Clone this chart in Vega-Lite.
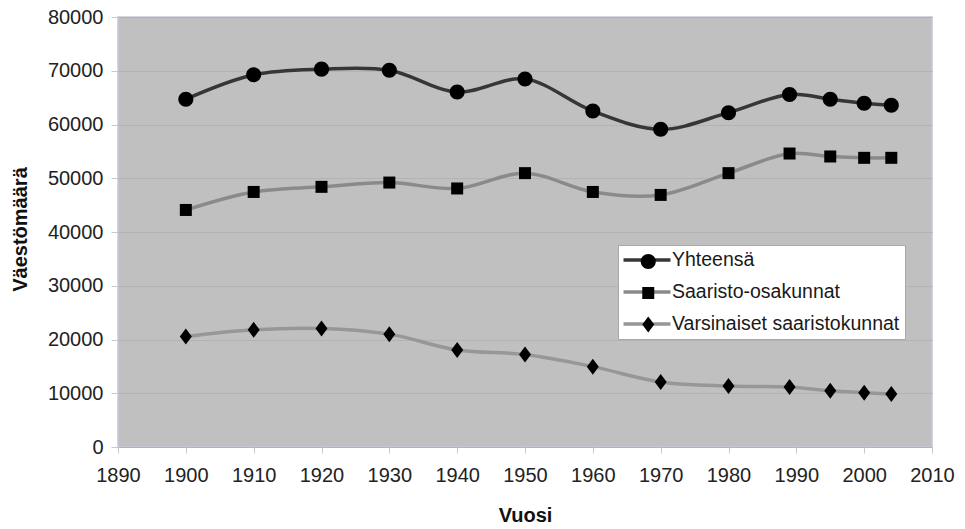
{
  "$schema": "https://vega.github.io/schema/vega-lite/v6.json",
  "width": 814,
  "height": 430,
  "autosize": {"type": "none"},
  "padding": {"left": 118, "top": 17, "right": 33, "bottom": 82},
  "background": "white",
  "config": {
    "font": "Liberation Sans",
    "view": {"fill": "#c0c0c0", "stroke": "#c6c6da", "strokeWidth": 1.5}
  },
  "data": {
    "values": [
      {"vuosi": 1900, "sarja": "Yhteensä", "vaesto": 64700},
      {"vuosi": 1910, "sarja": "Yhteensä", "vaesto": 69250},
      {"vuosi": 1920, "sarja": "Yhteensä", "vaesto": 70300},
      {"vuosi": 1930, "sarja": "Yhteensä", "vaesto": 70100},
      {"vuosi": 1940, "sarja": "Yhteensä", "vaesto": 66050},
      {"vuosi": 1950, "sarja": "Yhteensä", "vaesto": 68450},
      {"vuosi": 1960, "sarja": "Yhteensä", "vaesto": 62500},
      {"vuosi": 1970, "sarja": "Yhteensä", "vaesto": 59100},
      {"vuosi": 1980, "sarja": "Yhteensä", "vaesto": 62200},
      {"vuosi": 1989, "sarja": "Yhteensä", "vaesto": 65600},
      {"vuosi": 1995, "sarja": "Yhteensä", "vaesto": 64700},
      {"vuosi": 2000, "sarja": "Yhteensä", "vaesto": 63950},
      {"vuosi": 2004, "sarja": "Yhteensä", "vaesto": 63600},
      {"vuosi": 1900, "sarja": "Saaristo-osakunnat", "vaesto": 44100},
      {"vuosi": 1910, "sarja": "Saaristo-osakunnat", "vaesto": 47450},
      {"vuosi": 1920, "sarja": "Saaristo-osakunnat", "vaesto": 48400},
      {"vuosi": 1930, "sarja": "Saaristo-osakunnat", "vaesto": 49200},
      {"vuosi": 1940, "sarja": "Saaristo-osakunnat", "vaesto": 48100},
      {"vuosi": 1950, "sarja": "Saaristo-osakunnat", "vaesto": 50950},
      {"vuosi": 1960, "sarja": "Saaristo-osakunnat", "vaesto": 47450},
      {"vuosi": 1970, "sarja": "Saaristo-osakunnat", "vaesto": 46900},
      {"vuosi": 1980, "sarja": "Saaristo-osakunnat", "vaesto": 50950},
      {"vuosi": 1989, "sarja": "Saaristo-osakunnat", "vaesto": 54600},
      {"vuosi": 1995, "sarja": "Saaristo-osakunnat", "vaesto": 54050},
      {"vuosi": 2000, "sarja": "Saaristo-osakunnat", "vaesto": 53800},
      {"vuosi": 2004, "sarja": "Saaristo-osakunnat", "vaesto": 53800},
      {"vuosi": 1900, "sarja": "Varsinaiset saaristokunnat", "vaesto": 20550},
      {"vuosi": 1910, "sarja": "Varsinaiset saaristokunnat", "vaesto": 21800},
      {"vuosi": 1920, "sarja": "Varsinaiset saaristokunnat", "vaesto": 22050},
      {"vuosi": 1930, "sarja": "Varsinaiset saaristokunnat", "vaesto": 21000},
      {"vuosi": 1940, "sarja": "Varsinaiset saaristokunnat", "vaesto": 18050},
      {"vuosi": 1950, "sarja": "Varsinaiset saaristokunnat", "vaesto": 17200},
      {"vuosi": 1960, "sarja": "Varsinaiset saaristokunnat", "vaesto": 14950},
      {"vuosi": 1970, "sarja": "Varsinaiset saaristokunnat", "vaesto": 12100},
      {"vuosi": 1980, "sarja": "Varsinaiset saaristokunnat", "vaesto": 11350},
      {"vuosi": 1989, "sarja": "Varsinaiset saaristokunnat", "vaesto": 11150},
      {"vuosi": 1995, "sarja": "Varsinaiset saaristokunnat", "vaesto": 10450},
      {"vuosi": 2000, "sarja": "Varsinaiset saaristokunnat", "vaesto": 10100},
      {"vuosi": 2004, "sarja": "Varsinaiset saaristokunnat", "vaesto": 9850}
    ]
  },
  "encoding": {
    "x": {
      "field": "vuosi",
      "type": "quantitative",
      "scale": {"domain": [1890, 2010], "nice": false, "zero": false},
      "axis": {
        "title": "Vuosi",
        "values": [1890, 1900, 1910, 1920, 1930, 1940, 1950, 1960, 1970, 1980, 1990, 2000, 2010],
        "format": "d",
        "grid": false,
        "domain": false,
        "tickColor": "#c8c8d0",
        "tickSize": 6,
        "labelFlush": false,
        "labelOverlap": false,
        "labelFontSize": 20,
        "labelColor": "#222222",
        "labelPadding": 12,
        "titleFontSize": 20,
        "titleFontWeight": "bold",
        "titleColor": "#111111",
        "titleBaseline": "alphabetic",
        "titleY": 74
      }
    },
    "y": {
      "field": "vaesto",
      "type": "quantitative",
      "scale": {"domain": [0, 80000], "nice": false},
      "axis": {
        "title": "Väestömäärä",
        "values": [0, 10000, 20000, 30000, 40000, 50000, 60000, 70000, 80000],
        "format": "d",
        "grid": true,
        "gridColor": "#b3b3b3",
        "gridWidth": 1.2,
        "domain": false,
        "tickColor": "#c8c8d0",
        "tickSize": 7,
        "labelFontSize": 20,
        "labelColor": "#222222",
        "labelPadding": 8,
        "titleFontSize": 20,
        "titleFontWeight": "bold",
        "titleColor": "#111111",
        "titleAngle": -90,
        "titleAlign": "center",
        "titleBaseline": "middle",
        "titleX": -98,
        "titleY": 212
      }
    }
  },
  "layer": [
    {
      "mark": {"type": "line", "interpolate": "catmull-rom", "strokeWidth": 3.5},
      "encoding": {
        "color": {
          "field": "sarja",
          "type": "nominal",
          "scale": {
            "domain": ["Yhteensä", "Saaristo-osakunnat", "Varsinaiset saaristokunnat"],
            "range": ["#363636", "#8a8a8a", "#979797"]
          },
          "legend": {
            "title": null,
            "orient": "none",
            "legendX": 500,
            "legendY": 228,
            "fillColor": "white",
            "strokeColor": "#a8a8a8",
            "padding": 5,
            "symbolType": "M-3,0H3",
            "symbolSize": 245,
            "symbolStrokeWidth": 3.5,
            "symbolOffset": 14,
            "labelOffset": 15,
            "labelFontSize": 19.5,
            "labelColor": "#1a1a1a",
            "labelLimit": 400,
            "rowPadding": 12
          }
        }
      }
    },
    {
      "mark": {"type": "point", "filled": true, "color": "black", "opacity": 1, "size": 256, "strokeWidth": 0},
      "encoding": {
        "shape": {
          "field": "sarja",
          "type": "nominal",
          "sort": ["Yhteensä", "Saaristo-osakunnat", "Varsinaiset saaristokunnat"],
          "scale": {
            "range": [
              "M-0.94,0A0.94,0.94 0 1,0 0.94,0A0.94,0.94 0 1,0 -0.94,0Z",
              "M-0.75,-0.75H0.75V0.75H-0.75Z",
              "M0,-1L0.75,0L0,1L-0.75,0Z"
            ]
          },
          "legend": {
            "title": null,
            "orient": "none",
            "legendX": 500,
            "legendY": 229.75,
            "padding": 5,
            "symbolSize": 256,
            "symbolFillColor": "black",
            "symbolStrokeWidth": 0,
            "symbolOpacity": 1,
            "symbolOffset": 15.5,
            "labelExpr": "''",
            "labelFontSize": 19.5,
            "labelLimit": 400,
            "rowPadding": 10.5
          }
        }
      }
    }
  ]
}
